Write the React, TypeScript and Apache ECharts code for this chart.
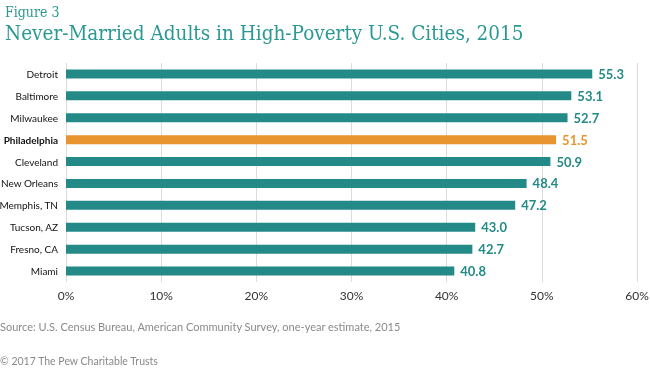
import React, { useEffect, useRef } from "react";
import * as echarts from "echarts";

const cities = ["Detroit", "Baltimore", "Milwaukee", "Philadelphia", "Cleveland", "New Orleans", "Memphis, TN", "Tucson, AZ", "Fresno, CA", "Miami"];
const values = [55.3, 53.1, 52.7, 51.5, 50.9, 48.4, 47.2, 43.0, 42.7, 40.8];
const highlight = "Philadelphia";
const xTicks = [0, 10, 20, 30, 40, 50, 60];

const TEAL = "#238a87";
const ORANGE = "#e8952f";
const TITLE = "#2a9893";

export default function App() {
  const ref = useRef<HTMLDivElement>(null);
  useEffect(() => {
    if (!ref.current) return;
    const chart = echarts.init(ref.current, null, { renderer: "svg" });
    const cats = [...cities].reverse();
    const vals = [...values].reverse();
    chart.setOption({
      animation: false,
      title: [
        { text: "Figure 3", left: 0, top: 0, textStyle: { fontFamily: "DejaVu Serif Condensed, DejaVu Serif", fontWeight: "normal", fontSize: 14, color: TITLE } },
        { text: "Never-Married Adults in High-Poverty U.S. Cities, 2015", left: 0, top: 17, textStyle: { fontFamily: "DejaVu Serif Condensed, DejaVu Serif", fontWeight: "normal", fontSize: 20.5, color: TITLE } },
      ],
      graphic: [
        { type: "text", left: 0, top: 321, style: { text: "Source: U.S. Census Bureau, American Community Survey, one-year estimate, 2015", fontFamily: "Lato", fontSize: 11, fill: "#8a8a8a" } },
        { type: "text", left: 0, top: 355, style: { text: "© 2017 The Pew Charitable Trusts", fontFamily: "Lato", fontSize: 10.5, fill: "#8a8a8a" } },
      ],
      grid: { left: 66, right: 13, top: 63, bottom: 91, containLabel: false, outerBoundsMode: "none" },
      xAxis: {
        type: "value",
        min: 0,
        max: 60,
        interval: 10,
        axisLine: { show: false },
        axisTick: { show: false },
        splitLine: { show: true, lineStyle: { color: "#dcdcdc", width: 1 } },
        axisLabel: { formatter: (v: number) => (xTicks.includes(v) ? v + "%" : ""), fontFamily: "Lato", fontSize: 12, color: "#333", margin: 7 },
      },
      yAxis: {
        type: "category",
        data: cats,
        axisLine: { show: false },
        axisTick: { show: false },
        axisLabel: {
          fontFamily: "Lato",
          fontSize: 10,
          color: "#111",
          margin: 8,
          formatter: (v: string) => (v === highlight ? "{b|" + v + "}" : v),
          rich: { b: { fontFamily: "Lato", fontSize: 10, fontWeight: "bold", color: "#111" } },
        },
      },
      series: [
        {
          type: "bar",
          data: vals.map((v, i) => ({
            value: v,
            itemStyle: { color: cats[i] === highlight ? ORANGE : TEAL },
            label: { color: cats[i] === highlight ? ORANGE : TEAL },
          })),
          barWidth: 9,
          label: {
            show: true,
            position: "right",
            distance: 6,
            formatter: (p: any) => p.value.toFixed(1),
            fontFamily: "Lato",
            fontWeight: "bold",
            fontSize: 13,
          },
        },
      ],
    });
    return () => chart.dispose();
  }, []);
  return <div ref={ref} style={{ position: "fixed", left: 0, top: 0, width: 650, height: 373 }} />;
}
